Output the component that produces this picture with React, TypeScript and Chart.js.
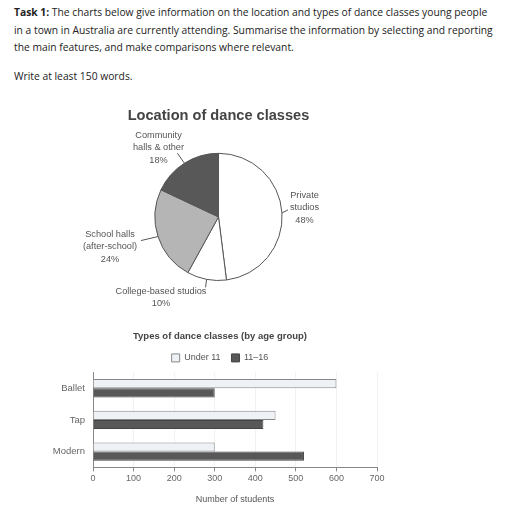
import { useEffect, useRef } from "react"
import { Chart, registerables } from "chart.js"
import type { Plugin } from "chart.js"

Chart.register(...registerables)
Chart.defaults.font.family = "'Liberation Sans', Arial, sans-serif"

// Pie data
const locationLabels = ["Private studios", "College-based studios", "School halls (after-school)", "Community halls & other"]
const locationLines = [["Private", "studios"], ["College-based studios"], ["School halls", "(after-school)"], ["Community", "halls & other"]]
const locationShares = [48, 10, 24, 18]

// Bar data
const danceTypes = ["Ballet", "Tap", "Modern"]
const under11 = [600, 450, 300]
const age11to16 = [300, 420, 520]
const xTicks = [0, 100, 200, 300, 400, 500, 600, 700]

const taskLines = [
  "The charts below give information on the location and types of dance classes young people",
  "in a town in Australia are currently attending. Summarise the information by selecting and reporting",
  "the main features, and make comparisons where relevant.",
]

// label placement around the pie, relative to the centre
const labelSpots = [
  { tx: 86, ty: -21.5, lx: 6, ly: -3 },
  { tx: -57.5, ty: 74.5, lx: -1, ly: 8 },
  { tx: -108.5, ty: 17.5, lx: -17, ly: 4 },
  { tx: -60, ty: -81.5, lx: -7, ly: -10 },
]

const pieLabelPlugin: Plugin<"pie"> = {
  id: "pieLabels",
  afterDraw(chart) {
    const ctx = chart.ctx
    const meta = chart.getDatasetMeta(0)
    ctx.save()
    ctx.font = "9.2px 'Liberation Sans', Arial, sans-serif"
    ctx.fillStyle = "#555"
    ctx.strokeStyle = "#555"
    ctx.lineWidth = 1
    ctx.textAlign = "center"
    ctx.textBaseline = "middle"
    meta.data.forEach((el: any, i) => {
      const mid = (el.startAngle + el.endAngle) / 2
      const ax = el.x + Math.cos(mid) * el.outerRadius
      const ay = el.y + Math.sin(mid) * el.outerRadius
      const spot = labelSpots[i]
      ctx.beginPath()
      ctx.moveTo(ax, ay)
      ctx.lineTo(ax + spot.lx, ay + spot.ly)
      ctx.stroke()
      const lines = [...locationLines[i], locationShares[i] + "%"]
      lines.forEach((line, j) => {
        ctx.fillText(line, el.x + spot.tx, el.y + spot.ty + j * 12.5)
      })
    })
    ctx.restore()
  },
}

// the title and legend of the bar chart sit a bit right of the canvas centre
const shiftHeader: Plugin<"bar"> = {
  id: "shiftHeader",
  afterLayout(chart) {
    const c = chart as any
    for (const box of [c.titleBlock, c.legend]) {
      if (box) {
        box.left += 16.5
        box.right += 16.5
      }
    }
  },
}

function LocationPie() {
  const canvasRef = useRef<HTMLCanvasElement>(null)
  const chartInstance = useRef<Chart | null>(null)

  useEffect(() => {
    if (!canvasRef.current) return
    if (chartInstance.current) chartInstance.current.destroy()

    chartInstance.current = new Chart(canvasRef.current, {
      type: "pie",
      data: {
        labels: locationLabels,
        datasets: [
          {
            data: locationShares,
            backgroundColor: ["#ffffff", "#ffffff", "#b5b5b5", "#585858"],
            borderColor: "#555",
            borderWidth: 1,
          },
        ],
      },
      options: {
        animation: false,
        responsive: false,
        layout: { padding: { right: 3, bottom: 34 } },
        plugins: {
          legend: { display: false },
          tooltip: { enabled: false },
          title: {
            display: true,
            text: "Location of dance classes",
            color: "#444",
            font: { size: 14.6, weight: "bold" },
            padding: { top: 7, bottom: 28.3 },
          },
        },
      },
      plugins: [pieLabelPlugin],
    })

    return () => {
      if (chartInstance.current) {
        chartInstance.current.destroy()
        chartInstance.current = null
      }
    }
  }, [])

  return <canvas ref={canvasRef} width={320} height={215} style={{ position: "absolute", left: 60, top: 100 }} />
}

function DanceTypesBar() {
  const canvasRef = useRef<HTMLCanvasElement>(null)
  const chartInstance = useRef<Chart | null>(null)

  useEffect(() => {
    if (!canvasRef.current) return
    if (chartInstance.current) chartInstance.current.destroy()

    const small = { size: 9 }
    chartInstance.current = new Chart(canvasRef.current, {
      type: "bar",
      data: {
        labels: danceTypes,
        datasets: [
          {
            label: "Under 11",
            data: under11,
            backgroundColor: "#eef1f6",
            borderColor: "#888",
            borderWidth: 1,
            categoryPercentage: 0.58,
            barPercentage: 1,
          },
          {
            label: "11\u201316",
            data: age11to16,
            backgroundColor: "#585858",
            borderColor: "#444",
            borderWidth: 1,
            categoryPercentage: 0.58,
            barPercentage: 1,
          },
        ],
      },
      options: {
        animation: false,
        responsive: false,
        indexAxis: "y",
        layout: { padding: { right: 23, bottom: 1 } },
        plugins: {
          tooltip: { enabled: false },
          title: {
            display: true,
            text: "Types of dance classes (by age group)",
            color: "#444",
            font: { size: 9.5, weight: "bold" },
            padding: { top: 6, bottom: 0 },
          },
          legend: {
            labels: { boxWidth: 8, boxHeight: 8, font: small, color: "#555", padding: 11 },
          },
        },
        scales: {
          x: {
            min: 0,
            max: 700,
            afterBuildTicks: (scale) => {
              scale.ticks = xTicks.map((v) => ({ value: v }))
            },
            ticks: { font: small, color: "#666", padding: 2 },
            grid: { color: "#f1f1f1", tickColor: "#888", tickLength: 4 },
            border: { color: "#888" },
            title: {
              display: true,
              text: "Number of students",
              font: small,
              color: "#555",
              padding: { top: 8 },
            },
          },
          y: {
            ticks: { font: { size: 9.5 }, color: "#666", padding: 8 },
            grid: { display: false, drawTicks: false },
            border: { color: "#888" },
            afterFit: (scale) => {
              scale.width = 63
            },
          },
        },
      },
      plugins: [shiftHeader],
    })

    return () => {
      if (chartInstance.current) {
        chartInstance.current.destroy()
        chartInstance.current = null
      }
    }
  }, [])

  return <canvas ref={canvasRef} width={370} height={185} style={{ position: "absolute", left: 30, top: 325 }} />
}

export default function App() {
  const textStyle = {
    position: "absolute" as const,
    left: 14,
    fontFamily: "'Open Sans', Lato, sans-serif",
    fontSize: 10.3,
    color: "#222",
    whiteSpace: "nowrap" as const,
    lineHeight: "12px",
  }
  return (
    <div style={{ position: "absolute", left: 0, top: 0, width: 509, height: 512, background: "#fff", overflow: "hidden" }}>
      {taskLines.map((line, i) => (
        <div key={i} style={{ ...textStyle, top: 6 + i * 17.5 }}>
          {i === 0 && <b>Task 1: </b>}
          {line}
        </div>
      ))}
      <div style={{ ...textStyle, top: 70 }}>Write at least 150 words.</div>
      <LocationPie />
      <DanceTypesBar />
    </div>
  )
}
